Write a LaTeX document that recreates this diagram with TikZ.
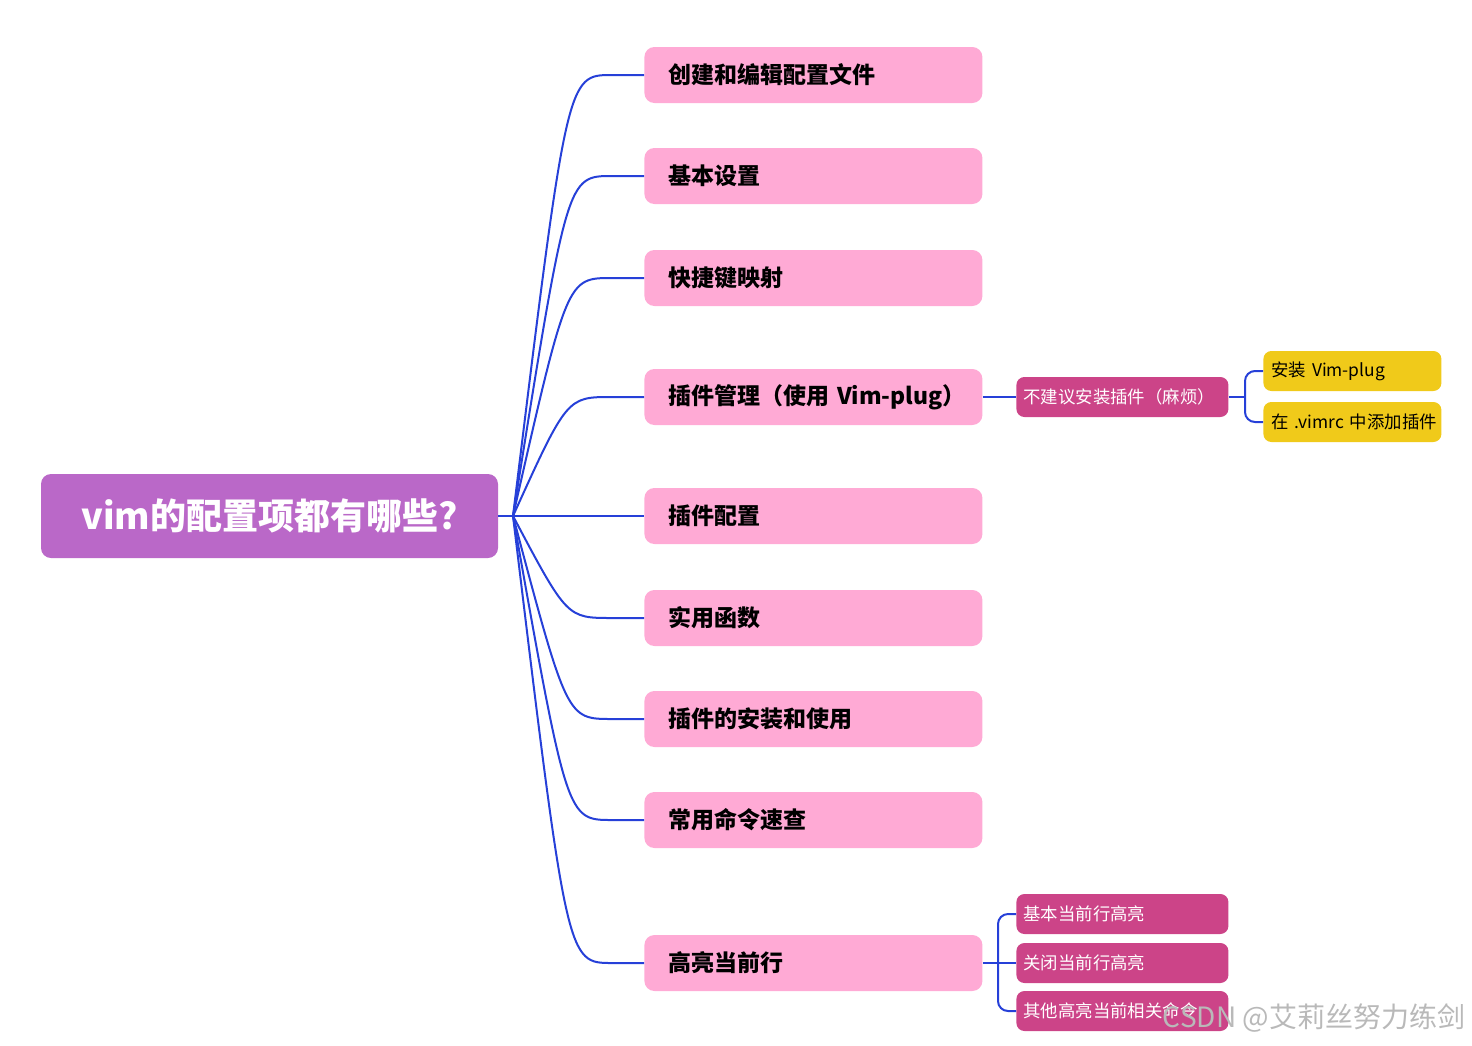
\documentclass[tikz,border=0pt]{standalone}
\usepackage{fontspec}
\setmainfont{Noto Sans CJK SC}
\usepackage{xcolor}
\usetikzlibrary{positioning,calc}
\definecolor{cRoot}{HTML}{BA68C8}
\definecolor{cTopic}{HTML}{FFAAD5}
\definecolor{cSub}{HTML}{CC4488}
\definecolor{cLeaf}{HTML}{F0CA1A}
\definecolor{cLine}{HTML}{2640D8}
\tikzset{
  rootbox/.style={fill=cRoot,rounded corners=5pt,text=white,font=\fontsize{18}{21}\selectfont\bfseries,minimum width=228.5pt,minimum height=42pt,inner sep=0pt},
  topicbox/.style={fill=cTopic,rounded corners=5pt,font=\fontsize{11.5}{14}\selectfont\bfseries,text width=145pt,align=left,inner xsep=12pt,minimum height=28pt,anchor=west},
  subbox/.style={fill=cSub,rounded corners=4pt,text=white,font=\fontsize{8.7}{10}\selectfont,text width=99pt,align=left,inner xsep=3.5pt,minimum height=20pt,anchor=west},
  leafbox/.style={fill=cLeaf,rounded corners=4pt,font=\fontsize{8.7}{10}\selectfont,text width=81pt,align=left,inner xsep=4pt,minimum height=20pt,anchor=west},
  branch/.style={draw=cLine,line width=1pt}
}

\begin{document}
\begin{tikzpicture}[x=0.5pt,y=-0.5pt]
  \useasboundingbox (0,0) rectangle (1472,1045);
  % root and hub
  \node[rootbox] (root) at (269.5,516) {vim的配置项都有哪些?};
  \coordinate (hub) at (513,516);
  \draw[branch] (root.east) -- (hub);
  % main topics
  \foreach \n/\y/\t in {1/75/创建和编辑配置文件,2/176/基本设置,3/278/快捷键映射,4/397/插件管理（使用 Vim-plug）,5/516/插件配置,6/618/实用函数,7/719/插件的安装和使用,8/820/常用命令速查,9/963/高亮当前行}{
    \node[topicbox] (t\n) at (644,\y) {\mbox{\t}};
    \draw[branch] (hub) .. controls (567,\y) and (567,\y) .. (612,\y) -- (t\n.west);
  }
  % plugin branch
  \node[subbox] (s1) at (1016,397) {\mbox{不建议安装插件（麻烦）}};
  \draw[branch] (t4.east) -- (s1.west);
  \node[leafbox] (l1) at (1263,371) {\mbox{安装 Vim-plug}};
  \node[leafbox] (l2) at (1263,422) {\mbox{在 .vimrc 中添加插件}};
  \coordinate (j1) at (1245,397);
  \draw[branch] (s1.east) -- (j1);
  \draw[branch,rounded corners=5pt] (l1.west) -- (j1 |- l1.west) -- (j1 |- l2.west) -- (l2.west);
  % highlight branch
  \node[subbox] (h1) at (1016,914) {\mbox{基本当前行高亮}};
  \node[subbox] (h2) at (1016,963) {\mbox{关闭当前行高亮}};
  \node[subbox] (h3) at (1016,1011) {\mbox{其他高亮当前相关命令}};
  \coordinate (j2) at (998,963);
  \draw[branch] (t9.east) -- (h2.west);
  \draw[branch,rounded corners=5pt] (h1.west) -- (j2 |- h1.west) -- (j2 |- h3.west) -- (h3.west);
  % watermark
  \node[text=gray!55,font=\fontsize{14}{17}\selectfont] (mark) at (1314,1018) {CSDN @艾莉丝努力练剑};
\end{tikzpicture}
\end{document}
